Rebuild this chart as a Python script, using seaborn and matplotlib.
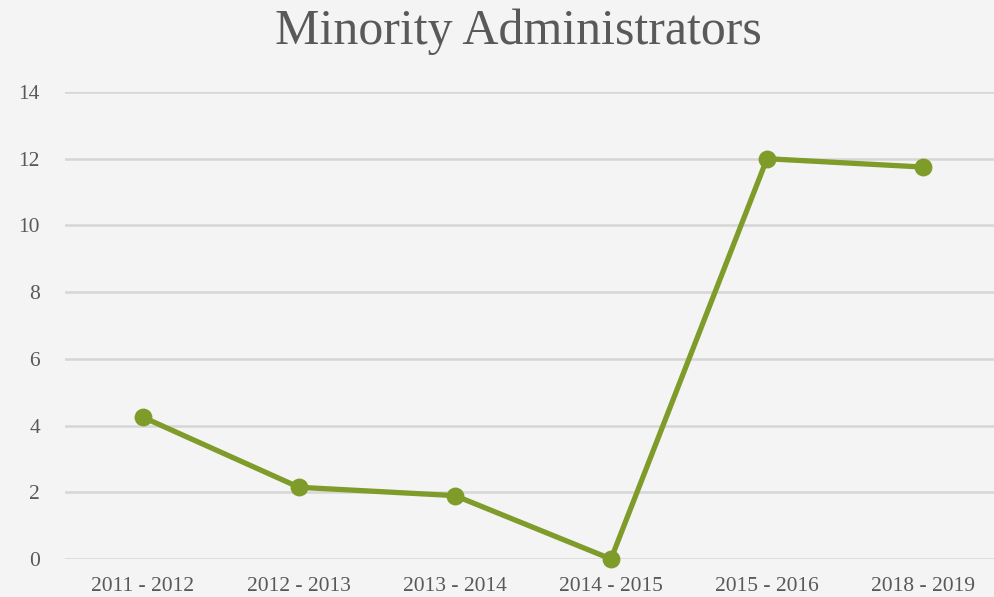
import matplotlib
matplotlib.use("Agg")
import matplotlib.pyplot as plt
import seaborn as sns
import pandas as pd

years = ["2011 - 2012", "2012 - 2013", "2013 - 2014", "2014 - 2015", "2015 - 2016", "2018 - 2019"]
values = [4.25, 2.15, 1.9, 0.0, 12.0, 11.75]
yticks = [0, 2, 4, 6, 8, 10, 12, 14]

sns.set_theme(style="white")
plt.rcParams["font.family"] = ["Liberation Serif", "DejaVu Serif"]

df = pd.DataFrame({"year": years, "value": values})
bg = "#f4f4f4"
fig = plt.figure(figsize=(9.95, 5.97), dpi=100, facecolor=bg)
ax = fig.add_axes([65/995, 38/597, 936/995, 467/597])
ax.set_facecolor(bg)

sns.pointplot(data=df, x="year", y="value", color="#7f9b2a", ax=ax,
              markers="o", markersize=10, linewidth=3.8)
for ln in ax.lines:
    ln.set_clip_on(False)
for c in ax.collections:
    c.set_clip_on(False)

ax.set_ylim(0, 14)
ax.set_xlim(-0.5, 5.5)
ax.set_yticks(yticks)
ax.yaxis.grid(True, color="#d6d6d6", linewidth=1.8)
ax.set_axisbelow(True)
for s in ax.spines.values():
    s.set_visible(False)
ax.tick_params(axis="both", length=0, labelsize=15.5, colors="#595959")
ax.tick_params(axis="y", pad=18)
ax.tick_params(axis="x", pad=13)
ax.set_xlabel("")
ax.set_ylabel("")
fig.text(518/995, 1 - 32/597, "Minority Administrators", ha="center", va="center",
         fontsize=36, color="#595959")

fig.savefig("out.png", dpi=100, facecolor=bg)
